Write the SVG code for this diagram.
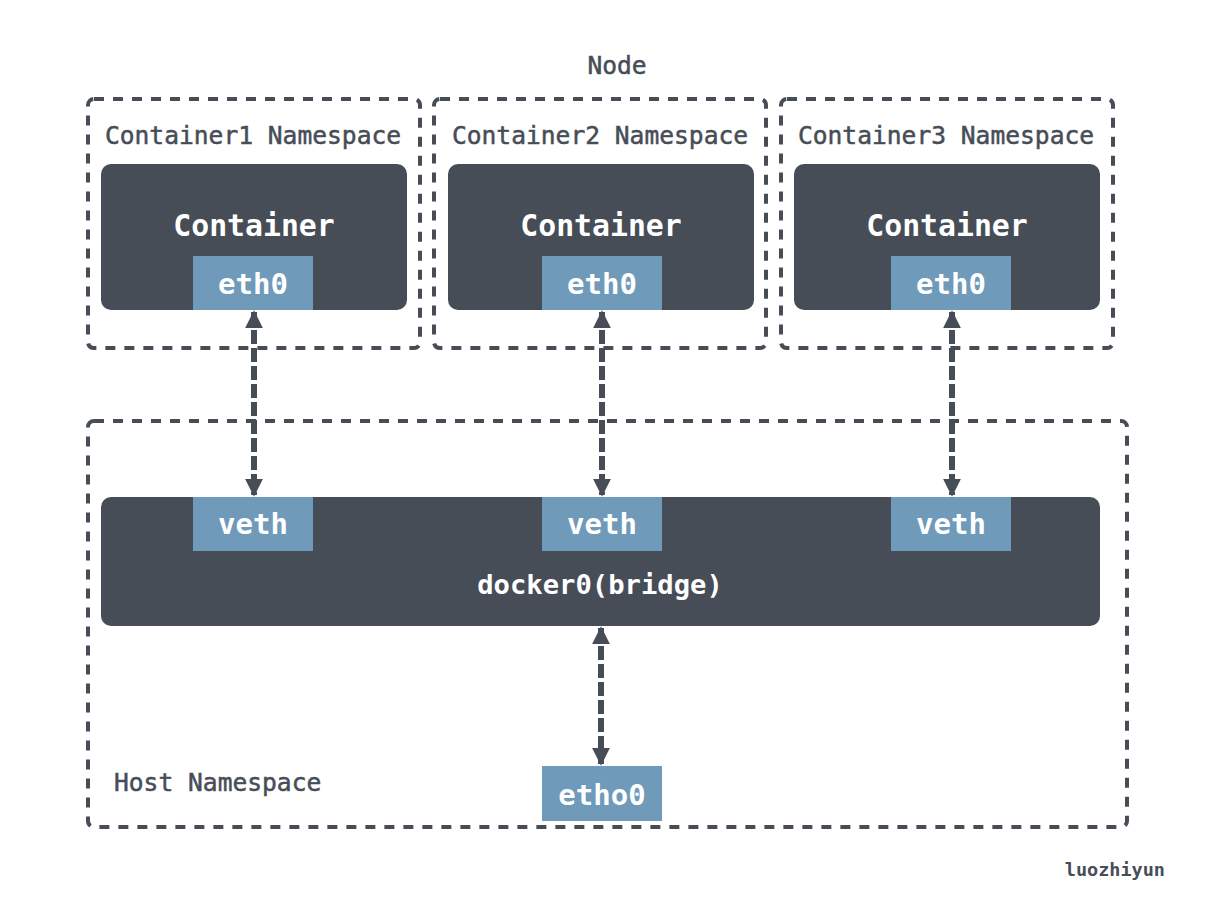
<svg xmlns="http://www.w3.org/2000/svg" width="1216" height="908" viewBox="0 0 1216 908">
<defs>
<style>
.ns{fill:none;stroke:#474d57;stroke-width:4;stroke-dasharray:10 9}
.box{fill:#474d57}
.port{fill:#6f9aba}
.conn{stroke:#474d57;stroke-width:6;stroke-dasharray:14 4;fill:none}
text{font-family:"DejaVu Sans Mono","Liberation Mono",monospace;font-weight:bold}
.lbl{fill:#474d57;font-size:24.6px;font-weight:normal;stroke:#474d57;stroke-width:0.5}
.big{fill:#ffffff;font-size:29.8px}
.pt{fill:#ffffff;font-size:29px}
</style>
<marker id="ah" viewBox="0 0 10 10" refX="9" refY="5" markerWidth="3" markerHeight="3" orient="auto-start-reverse" markerUnits="strokeWidth">
<path d="M0,0 L10,5 L0,10 z" fill="#474d57"/>
</marker>
</defs>
<rect width="1216" height="908" fill="#ffffff"/>
<text id="node-title" class="lbl" x="617" y="74" text-anchor="middle">Node</text>

<g id="ns1">
<rect class="ns" x="88" y="99" width="332" height="249" rx="6"/>
<text class="lbl" x="253" y="144" text-anchor="middle">Container1 Namespace</text>
</g>
<g id="ns2">
<rect class="ns" x="434" y="99" width="332" height="249" rx="6"/>
<text class="lbl" x="600" y="144" text-anchor="middle">Container2 Namespace</text>
</g>
<g id="ns3">
<rect class="ns" x="781" y="99" width="332" height="249" rx="6"/>
<text class="lbl" x="946" y="144" text-anchor="middle">Container3 Namespace</text>
</g>

<g id="container1">
<rect class="box" x="101" y="164" width="306" height="146" rx="10"/>
<text class="big" x="254" y="236" text-anchor="middle">Container</text>
</g>
<g id="container2">
<rect class="box" x="448" y="164" width="306" height="146" rx="10"/>
<text class="big" x="601" y="236" text-anchor="middle">Container</text>
</g>
<g id="container3">
<rect class="box" x="794" y="164" width="306" height="146" rx="10"/>
<text class="big" x="947" y="236" text-anchor="middle">Container</text>
</g>

<g id="eth0-1">
<rect class="port" x="193" y="256" width="120" height="54"/>
<text class="pt" x="253" y="294" text-anchor="middle">eth0</text>
</g>
<g id="eth0-2">
<rect class="port" x="542" y="256" width="120" height="54"/>
<text class="pt" x="602" y="294" text-anchor="middle">eth0</text>
</g>
<g id="eth0-3">
<rect class="port" x="891" y="256" width="120" height="54"/>
<text class="pt" x="951" y="294" text-anchor="middle">eth0</text>
</g>

<g id="host-ns">
<rect class="ns" x="88" y="421" width="1039" height="406" rx="6"/>
<text class="lbl" x="114" y="791">Host Namespace</text>
</g>

<g id="bridge">
<rect class="box" x="101" y="497" width="999" height="129" rx="10"/>
<text class="pt" x="600" y="594" text-anchor="middle" style="font-size:27.2px">docker0(bridge)</text>
</g>

<g id="veth1">
<rect class="port" x="193" y="497" width="120" height="54"/>
<text class="pt" x="253" y="534" text-anchor="middle">veth</text>
</g>
<g id="veth2">
<rect class="port" x="542" y="497" width="120" height="54"/>
<text class="pt" x="602" y="534" text-anchor="middle">veth</text>
</g>
<g id="veth3">
<rect class="port" x="891" y="497" width="120" height="54"/>
<text class="pt" x="951" y="534" text-anchor="middle">veth</text>
</g>

<g id="etho0">
<rect class="port" x="542" y="766" width="120" height="55"/>
<text class="pt" x="602" y="805" text-anchor="middle">etho0</text>
</g>

<g id="connectors">
<line class="conn" x1="254" y1="312" x2="254" y2="495" marker-start="url(#ah)" marker-end="url(#ah)"/>
<line class="conn" x1="602" y1="312" x2="602" y2="495" marker-start="url(#ah)" marker-end="url(#ah)"/>
<line class="conn" x1="952" y1="312" x2="952" y2="495" marker-start="url(#ah)" marker-end="url(#ah)"/>
<line class="conn" x1="601" y1="628" x2="601" y2="764" marker-start="url(#ah)" marker-end="url(#ah)"/>
</g>

<text id="watermark" x="1165" y="876" text-anchor="end" style="fill:#474d57;font-size:18.5px">luozhiyun</text>
</svg>
